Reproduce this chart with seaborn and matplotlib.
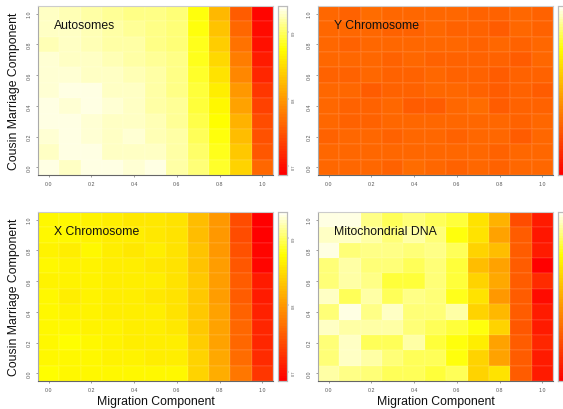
import numpy as np
import pandas as pd
import matplotlib
matplotlib.use("Agg")
import matplotlib.pyplot as plt
from matplotlib.colors import LinearSegmentedColormap
import seaborn as sns

sns.set_style("white")
plt.rcParams['font.family'] = ['Liberation Sans', 'DejaVu Sans']

# Axis categories
migration = ["0.0", "0.1", "0.2", "0.3", "0.4", "0.5", "0.6", "0.7", "0.8", "0.9", "1.0"]
cousin = ["1.0", "0.9", "0.8", "0.7", "0.6", "0.5", "0.4", "0.3", "0.2", "0.1", "0.0"]  # top -> bottom
tick_labels = ["0.0", "0.2", "0.4", "0.6", "0.8", "1.0"]

# Cell values (scaled colour level, rows top (1.0) -> bottom (0.0))
autosomes = [
    [0.95, 0.93, 0.92, 0.90, 0.89, 0.88, 0.86, 0.75, 0.54, 0.27, 0.03],
    [0.95, 0.94, 0.93, 0.91, 0.90, 0.89, 0.87, 0.76, 0.57, 0.30, 0.04],
    [0.93, 0.95, 0.93, 0.92, 0.91, 0.89, 0.87, 0.77, 0.60, 0.33, 0.05],
    [0.96, 0.95, 0.94, 0.93, 0.92, 0.90, 0.88, 0.78, 0.63, 0.36, 0.08],
    [0.96, 0.96, 0.94, 0.95, 0.93, 0.91, 0.88, 0.79, 0.66, 0.40, 0.12],
    [0.96, 0.98, 0.97, 0.95, 0.94, 0.92, 0.89, 0.80, 0.70, 0.44, 0.16],
    [0.98, 0.96, 0.98, 0.96, 0.95, 0.92, 0.90, 0.81, 0.72, 0.48, 0.19],
    [0.97, 0.97, 0.96, 0.95, 0.94, 0.93, 0.90, 0.82, 0.74, 0.52, 0.22],
    [0.96, 0.97, 0.96, 0.95, 0.96, 0.93, 0.91, 0.84, 0.76, 0.55, 0.24],
    [0.95, 0.97, 0.97, 0.95, 0.94, 0.94, 0.91, 0.85, 0.77, 0.58, 0.26],
    [0.97, 0.95, 0.98, 0.97, 0.96, 0.97, 0.92, 0.87, 0.79, 0.62, 0.30],
]
y_chrom = [
    [0.30, 0.29, 0.32, 0.31, 0.30, 0.30, 0.30, 0.29, 0.29, 0.30, 0.29],
    [0.30, 0.30, 0.30, 0.29, 0.29, 0.30, 0.29, 0.29, 0.28, 0.30, 0.29],
    [0.30, 0.29, 0.30, 0.30, 0.31, 0.30, 0.30, 0.29, 0.30, 0.29, 0.30],
    [0.31, 0.30, 0.31, 0.29, 0.30, 0.29, 0.29, 0.29, 0.29, 0.28, 0.30],
    [0.29, 0.29, 0.30, 0.29, 0.29, 0.30, 0.29, 0.29, 0.28, 0.29, 0.29],
    [0.30, 0.30, 0.28, 0.29, 0.29, 0.30, 0.30, 0.29, 0.28, 0.29, 0.28],
    [0.30, 0.29, 0.29, 0.30, 0.28, 0.28, 0.31, 0.32, 0.28, 0.29, 0.29],
    [0.30, 0.29, 0.29, 0.30, 0.30, 0.30, 0.30, 0.30, 0.30, 0.29, 0.31],
    [0.29, 0.30, 0.30, 0.29, 0.30, 0.30, 0.29, 0.30, 0.30, 0.28, 0.30],
    [0.31, 0.30, 0.30, 0.30, 0.31, 0.31, 0.30, 0.30, 0.29, 0.30, 0.30],
    [0.31, 0.30, 0.30, 0.29, 0.32, 0.30, 0.29, 0.30, 0.29, 0.30, 0.30],
]
x_chrom = [
    [0.72, 0.72, 0.71, 0.70, 0.68, 0.68, 0.66, 0.56, 0.44, 0.22, 0.00],
    [0.72, 0.72, 0.71, 0.70, 0.69, 0.68, 0.66, 0.56, 0.44, 0.22, 0.01],
    [0.71, 0.70, 0.72, 0.69, 0.68, 0.69, 0.66, 0.57, 0.45, 0.24, 0.02],
    [0.72, 0.71, 0.71, 0.70, 0.69, 0.68, 0.67, 0.57, 0.46, 0.25, 0.02],
    [0.71, 0.71, 0.71, 0.69, 0.70, 0.69, 0.67, 0.58, 0.46, 0.27, 0.08],
    [0.72, 0.70, 0.71, 0.70, 0.69, 0.68, 0.66, 0.58, 0.46, 0.28, 0.09],
    [0.72, 0.71, 0.71, 0.70, 0.70, 0.69, 0.67, 0.58, 0.47, 0.29, 0.10],
    [0.73, 0.72, 0.71, 0.71, 0.70, 0.70, 0.68, 0.59, 0.48, 0.30, 0.11],
    [0.72, 0.74, 0.72, 0.71, 0.70, 0.70, 0.69, 0.60, 0.48, 0.31, 0.12],
    [0.73, 0.72, 0.72, 0.71, 0.71, 0.70, 0.69, 0.61, 0.49, 0.32, 0.14],
    [0.74, 0.73, 0.73, 0.72, 0.72, 0.72, 0.72, 0.62, 0.50, 0.35, 0.17],
]
mtdna = [
    [0.97, 0.97, 0.89, 0.83, 0.86, 0.84, 0.81, 0.66, 0.52, 0.23, 0.09],
    [0.95, 0.94, 0.91, 0.87, 0.91, 0.87, 0.75, 0.66, 0.47, 0.28, 0.07],
    [0.98, 0.87, 0.89, 0.89, 0.87, 0.89, 0.83, 0.61, 0.56, 0.28, 0.09],
    [0.87, 0.91, 0.87, 0.87, 0.84, 0.87, 0.81, 0.56, 0.47, 0.28, 0.00],
    [0.87, 0.91, 0.89, 0.81, 0.81, 0.86, 0.80, 0.61, 0.49, 0.28, 0.14],
    [0.94, 0.83, 0.91, 0.83, 0.89, 0.86, 0.78, 0.66, 0.45, 0.28, 0.04],
    [0.86, 0.97, 0.89, 0.94, 0.87, 0.86, 0.91, 0.61, 0.54, 0.28, 0.09],
    [0.95, 0.91, 0.91, 0.91, 0.87, 0.83, 0.80, 0.75, 0.61, 0.26, 0.09],
    [0.87, 0.94, 0.84, 0.84, 0.92, 0.81, 0.75, 0.70, 0.47, 0.28, 0.12],
    [0.87, 0.95, 0.91, 0.87, 0.83, 0.83, 0.75, 0.61, 0.47, 0.28, 0.09],
    [0.91, 0.89, 0.87, 0.83, 0.83, 0.81, 0.84, 0.61, 0.66, 0.28, 0.09],
]

panel_titles = ["Autosomes", "Y Chromosome", "X Chromosome", "Mitochondrial DNA"]
panel_data = [autosomes, y_chrom, x_chrom, mtdna]
cbar_tick_pos = [0.053, 0.45, 0.846]
cbar_tick_labels = ["0.7", "0.8", "0.9"]

heat = LinearSegmentedColormap.from_list(
    "heat", [(0.0, "#FF0000"), (0.375, "#FF8000"), (0.75, "#FFFF00"), (1.0, "#FFFFF2")], N=64)

W, H = 563, 410
fig = plt.figure(figsize=(W / 100, H / 100), dpi=100)

def fx(px):
    return px / W

def fy(py_top, py_bot):
    return (H - py_bot) / H, (py_bot - py_top) / H

lefts = [38, 318, 38, 318]
tops = [7, 7, 213, 213]
hm_w = 235
hm_h = 169
tick_col = "#555555"

for i in range(4):
    l = lefts[i]
    t = tops[i]
    b, h = fy(t, t + hm_h)
    ax = fig.add_axes([fx(l), b, fx(hm_w), h])
    cax = fig.add_axes([fx(l + hm_w + 5), b, fx(9), h])
    df = pd.DataFrame(panel_data[i], index=cousin, columns=migration)
    sns.heatmap(df, cmap=heat, vmin=0, vmax=1, ax=ax, cbar_ax=cax,
                linewidths=0.2, linecolor=(1, 1, 1, 0.06))
    ax.set_xticks([0.5, 2.5, 4.5, 6.5, 8.5, 10.5])
    ax.set_xticklabels(tick_labels, rotation=0)
    ax.set_yticks([10.5, 8.5, 6.5, 4.5, 2.5, 0.5])
    ax.set_yticklabels(tick_labels, rotation=90, va="center")
    ax.tick_params(axis="both", labelsize=3.8, colors=tick_col, length=1.5,
                   width=0.4, pad=3, left=True, bottom=True)
    for side, sp in ax.spines.items():
        sp.set_visible(True)
        sp.set_linewidth(0.8)
        sp.set_color("#cccccc")
    ax.spines["bottom"].set_color("#666666")
    ax.spines["left"].set_color("#aaaaaa")
    ax.text(0.068, 0.885, panel_titles[i], transform=ax.transAxes,
            fontsize=8.8, color="#111111", ha="left", va="center")
    if i in (0, 2):
        ax.set_ylabel("Cousin Marriage Component", fontsize=8.8, labelpad=5, color="#111111")
    else:
        ax.set_ylabel("")
    if i in (2, 3):
        ax.set_xlabel("Migration Component", fontsize=8.8, labelpad=2, color="#111111")
    else:
        ax.set_xlabel("")
    if i in (0, 2):
        cax.set_yticks(cbar_tick_pos)
        cax.set_yticklabels(cbar_tick_labels, rotation=90, va="center")
        cax.tick_params(labelsize=2.8, colors=tick_col, length=1.2, width=0.3, pad=2)
    else:
        cax.set_yticks([])
    for sp in cax.spines.values():
        sp.set_visible(True)
        sp.set_color("#bbbbbb")
        sp.set_linewidth(0.8)

fig.savefig("out.png", dpi=100)
